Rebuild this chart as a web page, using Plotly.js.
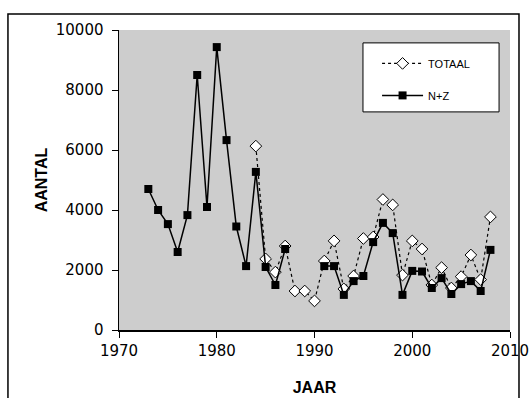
<!DOCTYPE html>
<html>
<head>
<meta charset="utf-8">
<script src="https://cdn.plot.ly/plotly-3.0.1.min.js"></script>
<style>html,body{margin:0;padding:0;background:#fff;}#chart{width:532px;height:398px;}</style>
</head>
<body>
<div id="chart"></div>
<script>
const years = [1973,1974,1975,1976,1977,1978,1979,1980,1981,1982,1983,1984,1985,1986,1987,1988,1989,1990,
  1991,1992,1993,1994,1995,1996,1997,1998,1999,2000,2001,2002,2003,2004,2005,2006,2007,2008];
const nz = [4700,4000,3530,2600,3830,8500,4100,9430,6330,3450,2130,5270,2100,1500,2700,null,null,null,
  2130,2130,1170,1630,1800,2930,3570,3230,1170,1970,1950,1400,1730,1200,1530,1630,1300,2670];
const totaalYears = [1984,1985,1986,1987,1988,1989,1990,1991,1992,1993,1994,1995,1996,1997,1998,1999,2000,
  2001,2002,2003,2004,2005,2006,2007,2008];
const totaal = [6130,2370,1930,2800,1300,1300,970,2300,2970,1370,1800,3050,3100,4350,4170,1830,2970,
  2700,1500,2080,1400,1780,2500,1680,3770];
const xTicks = [1970,1980,1990,2000,2010];
const yTicks = [0,2000,4000,6000,8000,10000];

const traces = [
  {x: totaalYears, y: totaal, name: 'TOTAAL', type: 'scatter', mode: 'lines+markers',
   legendgroup: 'a',
   line: {color: '#000', width: 1.2, dash: '3px,3px'},
   marker: {symbol: 'diamond', size: 9, color: '#fff', line: {color: '#000', width: 1}}},
  {x: years, y: nz, name: 'N+Z', type: 'scatter', mode: 'lines+markers',
   legendgroup: 'b', connectgaps: false,
   line: {color: '#000', width: 1.5},
   marker: {symbol: 'square', size: 8, color: '#000'}}
];

const layout = {
  width: 532, height: 398,
  margin: {l: 119, r: 22, t: 30, b: 68},
  paper_bgcolor: '#fff',
  plot_bgcolor: '#cdcdcd',
  font: {family: 'DejaVu Sans, sans-serif', color: '#000', size: 15},
  xaxis: {range: [1970, 2010], tickvals: xTicks, ticktext: xTicks.map(String),
    ticks: 'outside', ticklen: 6, tickcolor: '#000', showgrid: false, zeroline: false,
    showline: true, linecolor: '#000', linewidth: 1.5,
    tickfont: {family: 'DejaVu Sans, sans-serif', size: 15},
    title: {text: 'JAAR', font: {family: 'Liberation Sans, Arial, sans-serif', size: 16, weight: 'bold'}, standoff: 23}},
  yaxis: {range: [0, 10000], tickvals: yTicks, ticktext: yTicks.map(String),
    ticks: 'outside', ticklen: 6, tickcolor: '#000', showgrid: false, zeroline: false,
    showline: true, linecolor: '#000', linewidth: 1.5, ticklabelstandoff: 5,
    tickfont: {family: 'DejaVu Sans, sans-serif', size: 15},
    title: {text: 'AANTAL', font: {family: 'Liberation Sans, Arial, sans-serif', size: 16, weight: 'bold'}, standoff: 4}},
  legend: {x: 0.66, y: 0.937, xanchor: 'left', yanchor: 'top',
    bgcolor: 'rgba(0,0,0,0)', borderwidth: 0,
    traceorder: 'grouped', tracegroupgap: 13, itemwidth: 41,
    font: {family: 'Liberation Sans, Arial, sans-serif', size: 11}},
  shapes: [
    {type: 'rect', xref: 'paper', yref: 'paper', x0: -0.284, x1: 1.023, y0: -0.25, y1: 1.053,
     line: {color: '#000', width: 1.5}, fillcolor: 'rgba(0,0,0,0)', layer: 'below'},
    {type: 'rect', xref: 'paper', yref: 'paper', x0: 0.624, x1: 0.972, y0: 0.727, y1: 0.957,
     line: {color: '#000', width: 1}, fillcolor: '#fff', layer: 'above'}
  ]
};

Plotly.newPlot('chart', traces, layout, {displayModeBar: false, staticPlot: true});
</script>
</body>
</html>
